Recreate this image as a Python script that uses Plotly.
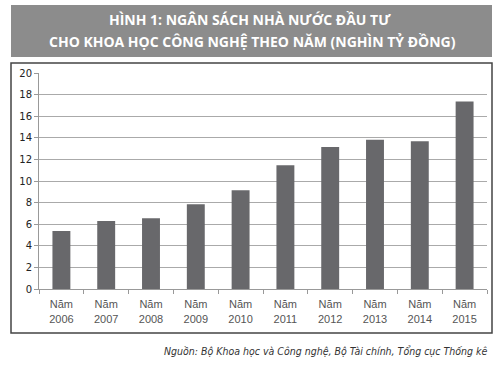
import plotly.graph_objects as go

years = ["2006", "2007", "2008", "2009", "2010", "2011", "2012", "2013", "2014", "2015"]
values = [5.37, 6.3, 6.55, 7.84, 9.14, 11.45, 13.15, 13.83, 13.67, 17.35]
tick_labels = [f"Năm<br>{y}" for y in years]
y_ticks = [0, 2, 4, 6, 8, 10, 12, 14, 16, 18, 20]

title_1 = "HÌNH 1: NGÂN SÁCH NHÀ NƯỚC ĐẦU TƯ"
title_2 = "CHO KHOA HỌC CÔNG NGHỆ THEO NĂM (NGHÌN TỶ ĐỒNG)"
source = "Nguồn: Bộ Khoa học và Công nghệ, Bộ Tài chính, Tổng cục Thống kê"

W, H = 500, 370
L, R, T, B = 39, 487, 73, 289

def px(x):
    return (x - L) / (R - L)

def py(y):
    return (B - y) / (B - T)

fig = go.Figure(
    go.Bar(
        x=years,
        y=values,
        marker=dict(color="#68686b", line=dict(width=0)),
        width=0.4,
        hoverinfo="x+y",
    )
)

fig.update_layout(
    width=W,
    height=H,
    margin=dict(l=L, r=W - R, t=T, b=H - B),
    paper_bgcolor="white",
    plot_bgcolor="white",
    showlegend=False,
    xaxis=dict(
        type="category",
        tickvals=years,
        ticktext=tick_labels,
        tickson="boundaries",
        ticks="outside",
        ticklen=4,
        tickcolor="#999999",
        showline=True,
        linecolor="#999999",
        linewidth=1,
        showgrid=False,
        ticklabelstandoff=5,
        tickfont=dict(family="Liberation Sans, Arial", size=11, color="#555555"),
    ),
    yaxis=dict(
        range=[0, 20],
        tickvals=y_ticks,
        ticks="outside",
        ticklen=4,
        tickcolor="#999999",
        showline=True,
        linecolor="#999999",
        linewidth=1,
        showgrid=True,
        gridcolor="#aaaaaa",
        gridwidth=1,
        zeroline=False,
        tickfont=dict(family="DejaVu Sans, Verdana", size=10, color="#222222"),
    ),
    shapes=[
        dict(type="rect", xref="paper", yref="paper",
             x0=px(11), x1=px(492), y0=py(57), y1=py(5),
             fillcolor="#8c8c8c", line=dict(width=0), layer="below"),
        dict(type="rect", xref="paper", yref="paper",
             x0=px(11), x1=px(492), y0=py(333), y1=py(63),
             fillcolor="rgba(0,0,0,0)", line=dict(color="#444444", width=1.5),
             layer="below"),
    ],
    annotations=[
        dict(text=f"<b>{title_1}</b>", xref="paper", yref="paper",
             x=px(250), y=py(20), xanchor="center", yanchor="middle",
             showarrow=False,
             font=dict(family="Open Sans", size=14, color="white")),
        dict(text=f"<b>{title_2}</b>", xref="paper", yref="paper",
             x=px(252), y=py(42), xanchor="center", yanchor="middle",
             showarrow=False,
             font=dict(family="Open Sans", size=14, color="white")),
        dict(text=f"<i>{source}</i>", xref="paper", yref="paper",
             x=px(490), y=py(351), xanchor="right", yanchor="middle",
             showarrow=False,
             font=dict(family="DejaVu Sans Condensed, Liberation Sans",
                       size=10.5, color="#333333")),
    ],
)

fig.write_html(
    "out.html",
    config={"displayModeBar": False},
    post_script="document.body.style.margin='0';document.body.style.padding='0';",
)
